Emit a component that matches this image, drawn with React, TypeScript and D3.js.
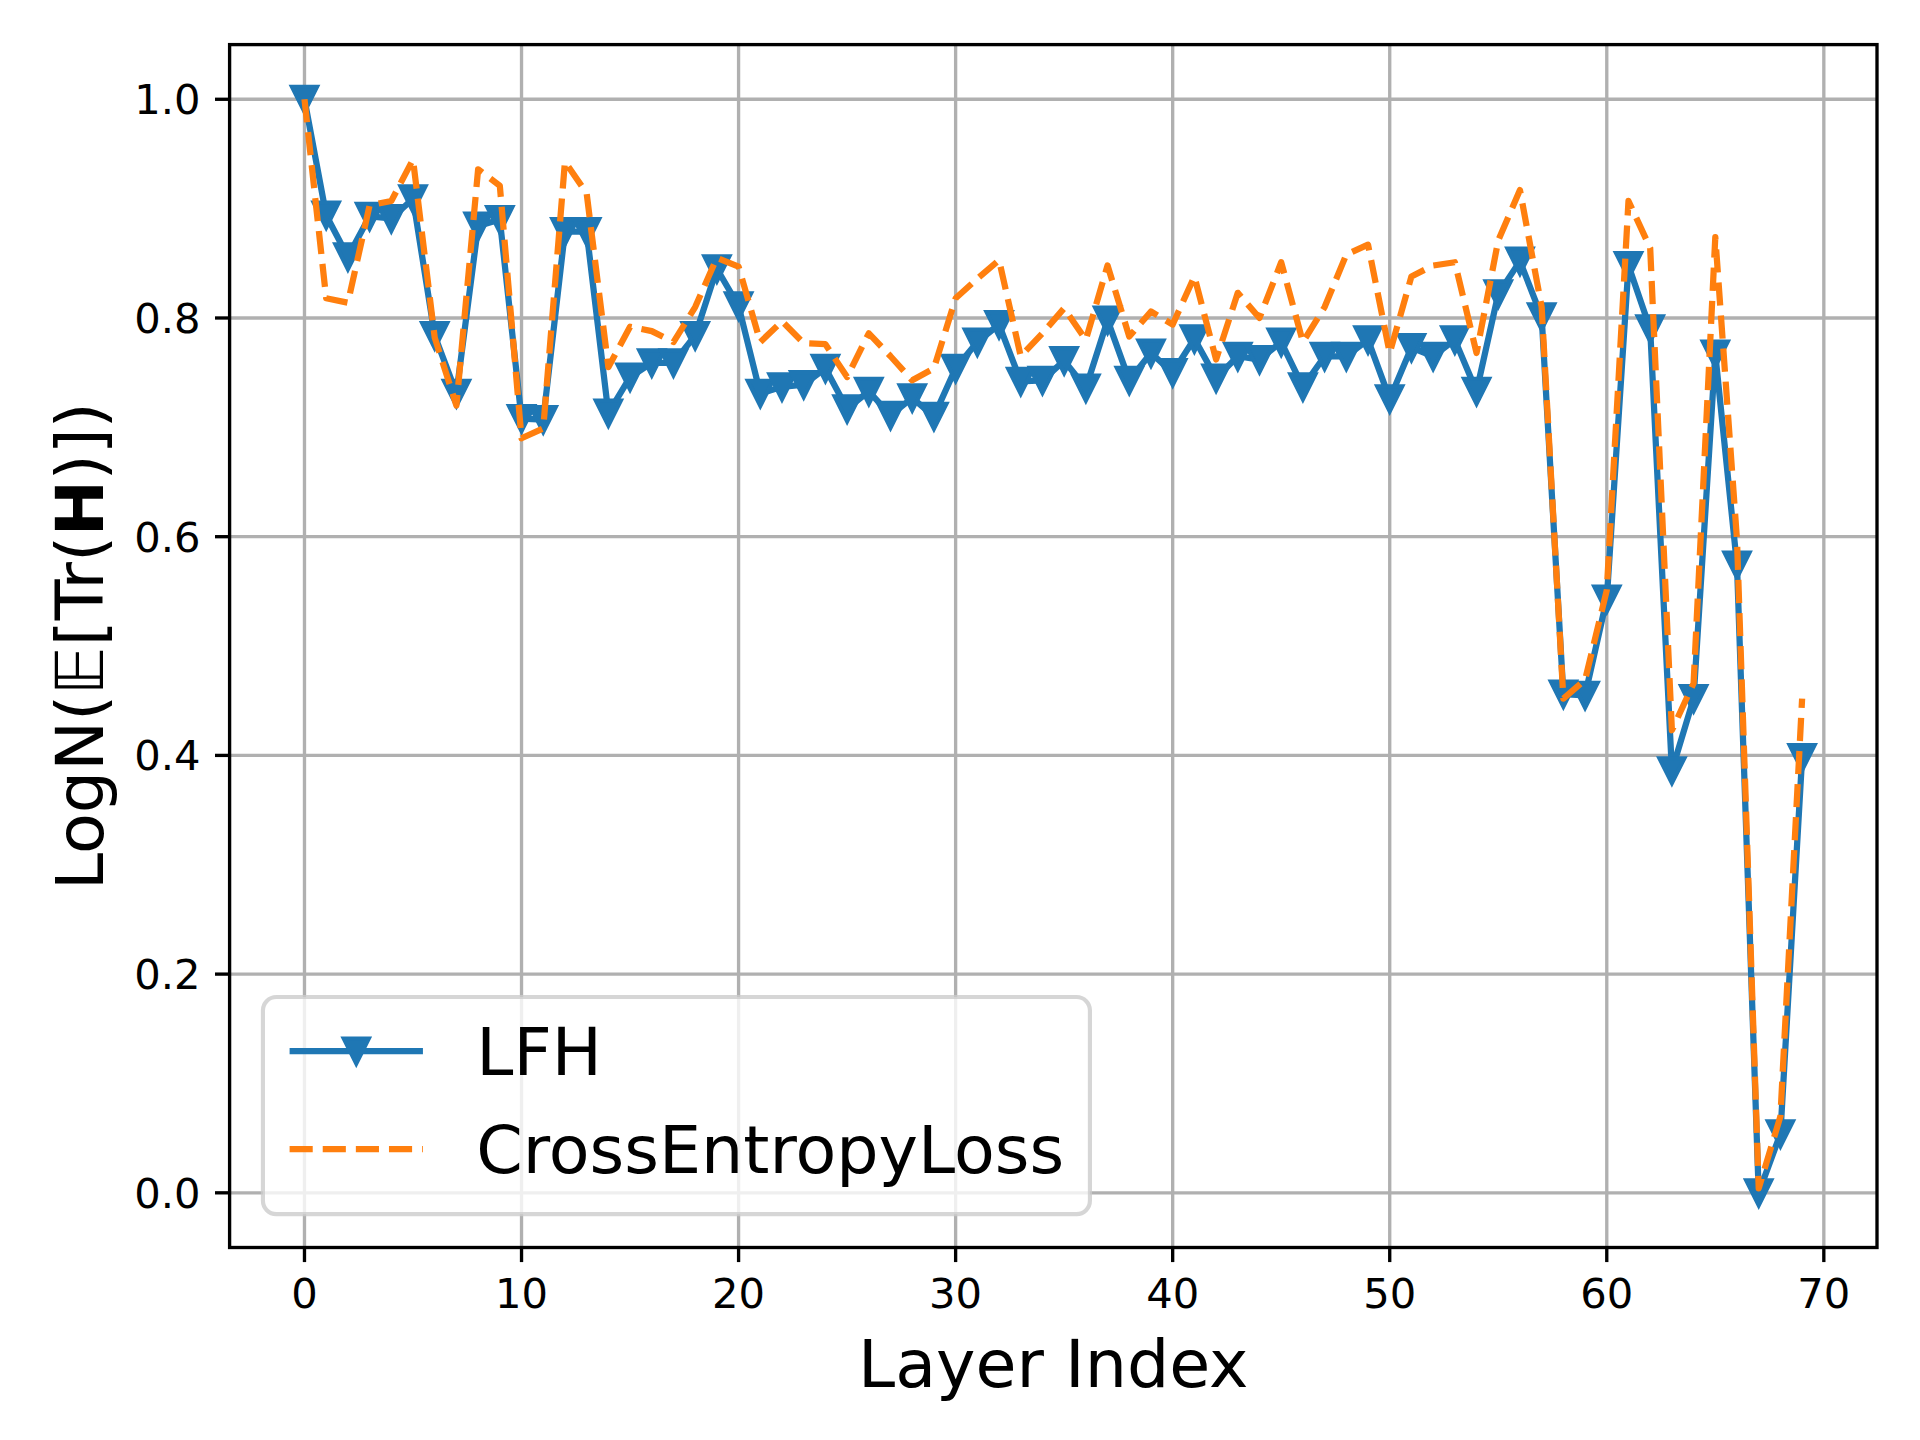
import * as d3 from "d3"

// LogN(E[Tr(H)]) per layer
const lfhValues = [
  1.0, 0.894, 0.856, 0.893, 0.891, 0.909, 0.784, 0.731, 0.884, 0.89,
  0.708, 0.707, 0.879, 0.879, 0.713, 0.746, 0.759, 0.759, 0.784, 0.845,
  0.811, 0.731, 0.737, 0.739, 0.754, 0.717, 0.733, 0.711, 0.727, 0.71,
  0.754, 0.778, 0.794, 0.742, 0.743, 0.761, 0.736, 0.798, 0.743, 0.768,
  0.75, 0.781, 0.745, 0.765, 0.762, 0.778, 0.737, 0.765, 0.765, 0.78,
  0.726, 0.773, 0.765, 0.78, 0.733, 0.822, 0.852, 0.801, 0.456, 0.455,
  0.543, 0.848, 0.79, 0.386, 0.452, 0.767, 0.574, 0.0, 0.054, 0.398,
]

const ceValues = [
  1.0, 0.818, 0.814, 0.903, 0.907, 0.945, 0.782, 0.72, 0.936, 0.921,
  0.69, 0.699, 0.943, 0.914, 0.755, 0.792, 0.788, 0.778, 0.81, 0.855,
  0.847, 0.778, 0.797, 0.777, 0.776, 0.746, 0.786, 0.765, 0.743, 0.754,
  0.818, 0.836, 0.853, 0.765, 0.786, 0.809, 0.78, 0.848, 0.783, 0.806,
  0.794, 0.838, 0.762, 0.823, 0.8, 0.851, 0.778, 0.81, 0.858, 0.867,
  0.768, 0.838, 0.848, 0.851, 0.768, 0.871, 0.917, 0.81, 0.452, 0.469,
  0.551, 0.907, 0.864, 0.423, 0.466, 0.874, 0.597, 0.004, 0.07, 0.452,
]

const xTicks = [0, 10, 20, 30, 40, 50, 60, 70]
const yTicks = [0.0, 0.2, 0.4, 0.6, 0.8, 1.0]

const seriesNames = ["LFH", "CrossEntropyLoss"]

const BLUE = "#1f77b4"
const ORANGE = "#ff7f0e"
const FONT = "'DejaVu Sans', sans-serif"

// figure is 1920x1440 (6.4x4.8in @ 300dpi), 1pt = 300/72 px
const PT = 300 / 72

export default function App() {
  const width = 1920
  const height = 1440
  const plot = { left: 229.6, right: 1877, top: 44.6, bottom: 1247.5 }

  const x = d3.scaleLinear().domain([-3.45, 72.45]).range([plot.left, plot.right])
  const y = d3.scaleLinear().domain([-0.05, 1.05]).range([plot.bottom, plot.top])

  const line = d3
    .line<number>()
    .x((_, i) => x(i))
    .y(d => y(d))

  const lw = 1.5 * PT
  const ms = 6 * PT
  const tickFont = 10 * PT
  const labelFont = 16 * PT
  const tickLen = 3.5 * PT
  const tickPad = 3.5 * PT

  // triangle_down marker
  const tri = (cx: number, cy: number) =>
    `M${cx - ms / 2},${cy - ms / 2}L${cx + ms / 2},${cy - ms / 2}L${cx},${cy + ms / 2}Z`

  // legend geometry (matplotlib-like: borderaxespad 0.5, borderpad 0.4, handlelength 2)
  const lg = {
    x: plot.left + 0.5 * labelFont,
    y: 997,
    w: 827,
    h: plot.bottom - 0.5 * labelFont - 997,
  }
  const handleX0 = lg.x + 0.4 * labelFont
  const handleX1 = handleX0 + 2 * labelFont
  const textX = handleX1 + 0.8 * labelFont
  const rowY = [1051, 1149]

  return (
    <svg
      width={width}
      height={height}
      viewBox={`0 0 ${width} ${height}`}
      style={{ position: "absolute", left: 0, top: 0, background: "#fff" }}
      fontFamily={FONT}
    >
      <rect x={0} y={0} width={width} height={height} fill="#fff" />

      {/* grid */}
      <g stroke="#b0b0b0" strokeWidth={0.8 * PT}>
        {xTicks.map(t => (
          <line key={"gx" + t} x1={x(t)} x2={x(t)} y1={plot.top} y2={plot.bottom} />
        ))}
        {yTicks.map(t => (
          <line key={"gy" + t} x1={plot.left} x2={plot.right} y1={y(t)} y2={y(t)} />
        ))}
      </g>

      {/* LFH series */}
      <path d={line(lfhValues) || ""} fill="none" stroke={BLUE} strokeWidth={lw} strokeLinejoin="round" strokeLinecap="square" />
      <g fill={BLUE} stroke={BLUE} strokeWidth={1 * PT} strokeLinejoin="miter">
        {lfhValues.map((v, i) => (
          <path key={"m" + i} d={tri(x(i), y(v))} />
        ))}
      </g>

      {/* CrossEntropyLoss series */}
      <path
        d={line(ceValues) || ""}
        fill="none"
        stroke={ORANGE}
        strokeWidth={lw}
        strokeDasharray={`${3.7 * lw} ${1.6 * lw}`}
        strokeLinejoin="round"
      />

      {/* spines */}
      <rect
        x={plot.left}
        y={plot.top}
        width={plot.right - plot.left}
        height={plot.bottom - plot.top}
        fill="none"
        stroke="#000"
        strokeWidth={0.8 * PT}
      />

      {/* x ticks */}
      <g>
        {xTicks.map(t => (
          <g key={"xt" + t}>
            <line x1={x(t)} x2={x(t)} y1={plot.bottom} y2={plot.bottom + tickLen} stroke="#000" strokeWidth={0.8 * PT} />
            <text x={x(t)} y={plot.bottom + tickLen + tickPad + 0.76 * tickFont} fontSize={tickFont} textAnchor="middle" fill="#000">
              {d3.format("d")(t)}
            </text>
          </g>
        ))}
      </g>

      {/* y ticks */}
      <g>
        {yTicks.map(t => (
          <g key={"yt" + t}>
            <line x1={plot.left - tickLen} x2={plot.left} y1={y(t)} y2={y(t)} stroke="#000" strokeWidth={0.8 * PT} />
            <text
              x={plot.left - tickLen - tickPad}
              y={y(t) + 0.36 * tickFont}
              fontSize={tickFont}
              textAnchor="end"
              fill="#000"
            >
              {d3.format(".1f")(t)}
            </text>
          </g>
        ))}
      </g>

      {/* axis labels */}
      <text x={(plot.left + plot.right) / 2} y={1387} fontSize={labelFont} textAnchor="middle" fill="#000">
        Layer Index
      </text>
      <text
        transform={`translate(103,${(plot.top + plot.bottom) / 2}) rotate(-90)`}
        fontSize={labelFont}
        textAnchor="middle"
        fill="#000"
      >
        LogN(<tspan fontStyle="italic">𝔼</tspan>[Tr(<tspan fontWeight="bold">H</tspan>)])
      </text>

      {/* legend */}
      <rect
        x={lg.x}
        y={lg.y}
        width={lg.w}
        height={lg.h}
        rx={0.2 * labelFont}
        fill="#fff"
        fillOpacity={0.8}
        stroke="#cccccc"
        strokeOpacity={0.8}
        strokeWidth={1 * PT}
      />
      <line x1={handleX0} x2={handleX1} y1={rowY[0]} y2={rowY[0]} stroke={BLUE} strokeWidth={lw} />
      <path d={tri((handleX0 + handleX1) / 2, rowY[0])} fill={BLUE} stroke={BLUE} strokeWidth={1 * PT} />
      <line
        x1={handleX0}
        x2={handleX1}
        y1={rowY[1]}
        y2={rowY[1]}
        stroke={ORANGE}
        strokeWidth={lw}
        strokeDasharray={`${3.7 * lw} ${1.6 * lw}`}
      />
      {seriesNames.map((name, i) => (
        <text key={name} x={textX} y={rowY[i] + 0.36 * labelFont} fontSize={labelFont} fill="#000">
          {name}
        </text>
      ))}
    </svg>
  )
}
